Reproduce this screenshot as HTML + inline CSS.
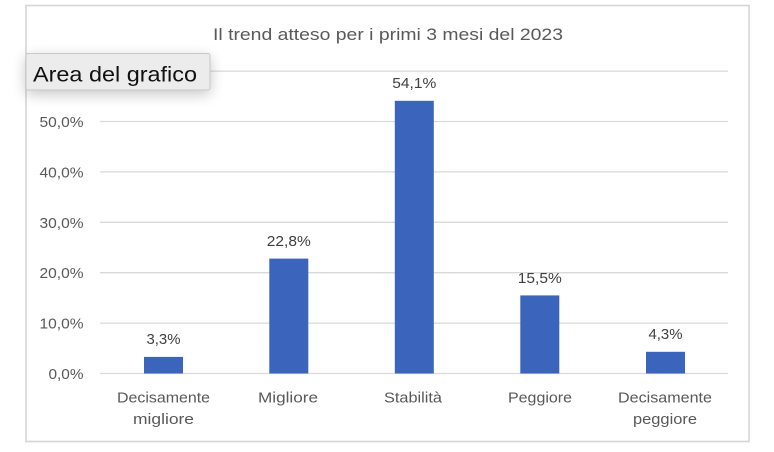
<!DOCTYPE html>
<html>
<head>
<meta charset="utf-8">
<style>
html,body{margin:0;padding:0;background:#fff;}
svg{display:block;}
text{font-family:"Liberation Sans",Arial,sans-serif;}
</style>
</head>
<body>
<svg width="774" height="452" viewBox="0 0 774 452" xmlns="http://www.w3.org/2000/svg">
<defs>
<filter id="sh" x="-30%" y="-80%" width="160%" height="260%">
<feGaussianBlur in="SourceAlpha" stdDeviation="7"/>
<feOffset dx="0" dy="4"/>
<feComponentTransfer><feFuncA type="linear" slope="0.22"/></feComponentTransfer>
<feMerge><feMergeNode/><feMergeNode in="SourceGraphic"/></feMerge>
</filter>
</defs>
<rect x="0" y="0" width="774" height="452" fill="#fff"/>
<!-- chart border -->
<rect x="26" y="5.5" width="723" height="436" fill="#fff" stroke="#d6d6d6" stroke-width="1.6"/>
<!-- title -->
<text x="388" y="40" font-size="17" fill="#595959" text-anchor="middle" textLength="350" lengthAdjust="spacingAndGlyphs">Il trend atteso per i primi 3 mesi del 2023</text>
<!-- gridlines -->
<g stroke="#d9d9d9" stroke-width="1.3">
<line x1="100" y1="71.1" x2="728" y2="71.1"/>
<line x1="100" y1="121.5" x2="728" y2="121.5"/>
<line x1="100" y1="171.9" x2="728" y2="171.9"/>
<line x1="100" y1="222.3" x2="728" y2="222.3"/>
<line x1="100" y1="272.7" x2="728" y2="272.7"/>
<line x1="100" y1="323.1" x2="728" y2="323.1"/>
<line x1="100" y1="373.5" x2="728" y2="373.5"/>
</g>
<!-- y labels -->
<g font-size="15" fill="#595959" text-anchor="end">
<text x="83.5" y="127" textLength="44" lengthAdjust="spacingAndGlyphs">50,0%</text>
<text x="83.5" y="177.4" textLength="44" lengthAdjust="spacingAndGlyphs">40,0%</text>
<text x="83.5" y="227.8" textLength="44" lengthAdjust="spacingAndGlyphs">30,0%</text>
<text x="83.5" y="278.2" textLength="44" lengthAdjust="spacingAndGlyphs">20,0%</text>
<text x="83.5" y="328.6" textLength="44" lengthAdjust="spacingAndGlyphs">10,0%</text>
<text x="83.5" y="379" textLength="35" lengthAdjust="spacingAndGlyphs">0,0%</text>
</g>
<!-- bars -->
<g fill="#3B65BD">
<rect x="144" y="356.9" width="39" height="16.6"/>
<rect x="269.3" y="258.6" width="39" height="114.9"/>
<rect x="394.8" y="100.8" width="39" height="272.7"/>
<rect x="520.3" y="295.4" width="39" height="78.1"/>
<rect x="646" y="351.8" width="39" height="21.7"/>
</g>
<!-- data labels -->
<g font-size="15" fill="#404040" text-anchor="middle">
<text x="163.5" y="344" textLength="34" lengthAdjust="spacingAndGlyphs">3,3%</text>
<text x="288.8" y="246" textLength="44" lengthAdjust="spacingAndGlyphs">22,8%</text>
<text x="414.3" y="88" textLength="44" lengthAdjust="spacingAndGlyphs">54,1%</text>
<text x="539.8" y="283" textLength="44" lengthAdjust="spacingAndGlyphs">15,5%</text>
<text x="665.5" y="339" textLength="34" lengthAdjust="spacingAndGlyphs">4,3%</text>
</g>
<!-- category labels -->
<g font-size="15" fill="#595959" text-anchor="middle">
<text x="163.5" y="402.5" textLength="93" lengthAdjust="spacingAndGlyphs">Decisamente</text>
<text x="163.5" y="424" textLength="61" lengthAdjust="spacingAndGlyphs">migliore</text>
<text x="288" y="402.5" textLength="60" lengthAdjust="spacingAndGlyphs">Migliore</text>
<text x="413" y="402.5" textLength="58" lengthAdjust="spacingAndGlyphs">Stabilità</text>
<text x="540" y="402.5" textLength="64" lengthAdjust="spacingAndGlyphs">Peggiore</text>
<text x="665" y="402.5" textLength="94" lengthAdjust="spacingAndGlyphs">Decisamente</text>
<text x="665" y="424" textLength="64" lengthAdjust="spacingAndGlyphs">peggiore</text>
</g>
<!-- tooltip -->
<rect x="26" y="53.5" width="184" height="36.5" rx="2" fill="#ececec" stroke="#c8c8c8" stroke-width="1" filter="url(#sh)"/>
<text x="33" y="81.5" font-size="21" fill="#111" textLength="164" lengthAdjust="spacingAndGlyphs">Area del grafico</text>
</svg>
</body>
</html>
